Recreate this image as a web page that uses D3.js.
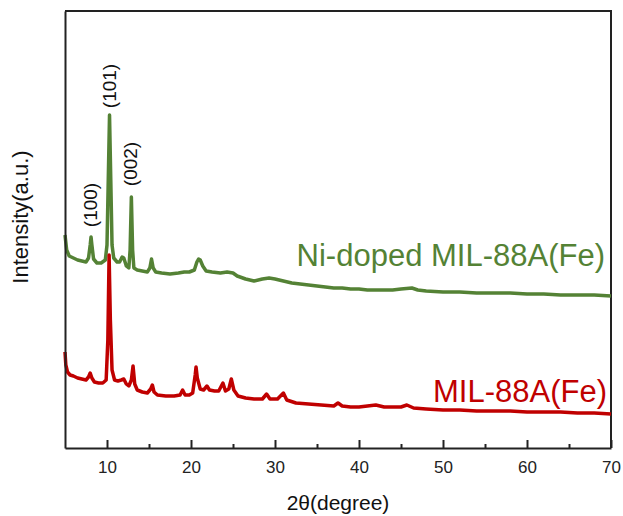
<!DOCTYPE html>
<html>
<head>
<meta charset="utf-8">
<script src="https://cdn.jsdelivr.net/npm/d3@7"></script>
<style>
  body { margin: 0; background: #fff; }
  svg { font-family: Arial, "Liberation Sans", sans-serif; }
</style>
</head>
<body>
<div id="chart"></div>
<script>
// 2theta (degree) positions shared by readings
const greenTheta = [5.0,5.2,5.5,6.0,6.5,7.0,7.5,7.8,8.0,8.1,8.2,8.4,8.8,9.3,9.8,10.0,10.15,10.3,10.45,10.6,10.8,11.2,11.5,11.8,12.0,12.3,12.6,12.75,12.9,13.05,13.2,13.6,14.2,14.8,15.1,15.3,15.5,15.8,16.5,17.5,18.5,19.2,19.8,20.4,20.7,20.9,21.1,21.4,21.8,22.5,23.5,24.3,25.0,25.5,26.5,27.5,28.5,29.3,30.0,31.0,32.0,33.0,34.0,35.0,36.0,37.0,38.0,39.0,40.0,41.0,42.0,43.0,44.0,45.0,46.3,47.0,48.0,50.0,52.0,54.0,56.0,58.0,60.0,62.0,64.0,66.0,68.0,70.0];
const greenIntensity = [213,198,192,190,188,187,186,190,203,211,203,189,185,185,188,203,268,333,268,203,190,186,186,191,190,182,180,198,251,198,180,178,177,176,180,189,180,176,175,174,175,176,176,178,186,189,188,182,177,176,175,176,175,172,169,167,169,170,169,167,165,164,163,162,161,160,160,159,159,158,158,158,158,159,160,158,157,156,156,155,155,155,154,154,153,153,153,152];

const redTheta = [5.0,5.1,5.3,5.6,6.0,6.5,7.0,7.5,7.8,8.0,8.2,8.5,9.0,9.5,9.9,10.1,10.25,10.4,10.6,10.9,11.3,11.7,12.0,12.3,12.6,12.9,13.1,13.3,13.6,14.2,14.8,15.2,15.4,15.6,16.0,17.0,18.0,18.7,19.0,19.3,19.8,20.2,20.5,20.6,20.75,21.1,21.5,21.9,22.2,22.8,23.3,23.8,24.1,24.5,24.8,25.1,25.6,26.5,27.5,28.5,29.0,29.4,30.3,31.0,31.4,32.5,34.0,35.5,37.0,37.5,38.0,39.0,40.0,41.0,42.0,43.0,44.0,45.0,45.7,46.5,48.0,50.0,52.0,54.0,56.0,58.0,60.0,62.0,64.0,66.0,68.0,70.0];
const redIntensity = [96,83,76,73,72,70,69,68,71,75,70,66,65,65,68,108,193,128,78,68,67,68,69,64,62,68,82,64,58,56,55,59,63,56,53,52,52,53,58,53,53,55,73,81,70,59,58,62,58,57,57,65,57,59,69,58,52,50,49,49,54,49,49,55,48,45,44,43,42,45,42,41,41,42,43,41,41,41,43,40,39,38,38,37,37,37,36,36,36,35,35,34];

const xTicks = [10,20,30,40,50,60,70];
const xMinorTicks = [15,25,35,45,55,65];

const peakLabels = ["(100)", "(101)", "(002)"];
const peakTheta = [8.1, 10.3, 12.9];
const peakLabelIntensity = [243, 362, 284];

const width = 623, height = 516;
const margin = { top: 11, right: 12, bottom: 68, left: 65 };
const green = "#548235", red = "#c00000";

const x = d3.scaleLinear().domain([5, 70]).range([margin.left, width - margin.right]);
const y = d3.scaleLinear().domain([0, 437]).range([height - margin.bottom, margin.top]);

const svg = d3.select("#chart").append("svg")
  .attr("width", width).attr("height", height);

// frame (top and right)
svg.append("path")
  .attr("d", `M${margin.left},${margin.top}H${width - margin.right}V${height - margin.bottom}`)
  .attr("fill", "none").attr("stroke", "#222").attr("stroke-width", 2);

const line = d3.line().x(d => x(d[0])).y(d => y(d[1]));

svg.append("path")
  .datum(greenTheta.map((t, i) => [t, greenIntensity[i]]))
  .attr("fill", "none").attr("stroke", green).attr("stroke-width", 3.5)
  .attr("stroke-linejoin", "round").attr("d", line);

svg.append("path")
  .datum(redTheta.map((t, i) => [t, redIntensity[i]]))
  .attr("fill", "none").attr("stroke", red).attr("stroke-width", 3.5)
  .attr("stroke-linejoin", "round").attr("d", line);

// x axis, ticks pointing inward
svg.append("g")
  .attr("transform", `translate(0,${height - margin.bottom})`)
  .call(d3.axisBottom(x).tickValues(xMinorTicks).tickSize(-4).tickFormat(""))
  .call(g => g.select(".domain").remove())
  .call(g => g.selectAll("line").attr("stroke", "#222").attr("stroke-width", 2));

svg.append("g")
  .attr("transform", `translate(0,${height - margin.bottom})`)
  .call(d3.axisBottom(x).tickValues(xTicks).tickSizeInner(-8).tickSizeOuter(0).tickPadding(13))
  .call(g => g.select(".domain").attr("stroke", "#222").attr("stroke-width", 2))
  .call(g => g.selectAll(".tick line").attr("stroke", "#222").attr("stroke-width", 2))
  .call(g => g.selectAll("text").attr("font-size", 17).attr("fill", "#222")
    .attr("font-family", "Arial, 'Liberation Sans', sans-serif"));

// y axis line only
svg.append("g")
  .attr("transform", `translate(${margin.left},0)`)
  .call(d3.axisLeft(y).tickValues([]).tickSizeOuter(0))
  .call(g => g.select(".domain").attr("stroke", "#222").attr("stroke-width", 2));

// axis titles
svg.append("text")
  .attr("x", 338)
  .attr("y", 510)
  .attr("text-anchor", "middle")
  .attr("font-size", 21).attr("fill", "#111")
  .text("2θ(degree)");

svg.append("text")
  .attr("transform", `translate(28,217) rotate(-90)`)
  .attr("text-anchor", "middle")
  .attr("font-size", 22).attr("fill", "#111")
  .text("Intensity(a.u.)");

// peak labels
svg.selectAll(".peak")
  .data(peakLabels)
  .join("text")
  .attr("class", "peak")
  .attr("transform", (d, i) => `translate(${x(peakTheta[i]) + 6},${y(peakLabelIntensity[i])}) rotate(-90)`)
  .attr("text-anchor", "middle")
  .attr("font-size", 19).attr("fill", "#111")
  .text(d => d);

// series labels
svg.append("text")
  .attr("x", 605).attr("y", 266)
  .attr("text-anchor", "end")
  .attr("font-size", 31).attr("fill", green)
  .text("Ni-doped MIL-88A(Fe)");

svg.append("text")
  .attr("x", 607).attr("y", 402)
  .attr("text-anchor", "end")
  .attr("font-size", 31).attr("fill", red)
  .text("MIL-88A(Fe)");
</script>
</body>
</html>
